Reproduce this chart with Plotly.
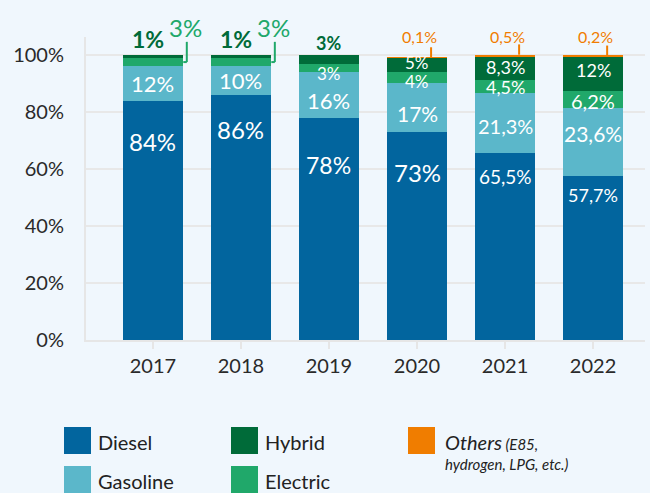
import plotly.graph_objects as go

years = ["2017", "2018", "2019", "2020", "2021", "2022"]
diesel = [84, 86, 78, 73, 65.5, 57.7]
gasoline = [12, 10, 16, 17, 21.3, 23.6]
electric = [3, 3, 3, 4, 4.5, 6.2]
hybrid = [1, 1, 3, 5, 8.3, 12]
others = [0, 0, 0, 0.1, 0.5, 0.2]
y_ticks = [0, 20, 40, 60, 80, 100]

C_DIESEL = "#02659E"
C_GAS = "#5BB7CA"
C_ELEC = "#20A86A"
C_HYB = "#006B39"
C_OTH = "#F07D00"
BG = "#F0F7FD"
FONT = "Lato"

W, H = 650, 493
ML, MR, MT, MB = 86, 5, 37, 153
YMAX = 106.3


def px2x(px):
    return (px - ML) / (W - ML - MR)


def py2y(py):
    return (H - MB - py) / (H - MT - MB)


def v2p(v):
    return v / YMAX


def fmt(v):
    return f"{v:g}".replace(".", ",") + "%"


fig = go.Figure()
for name, vals, col in [("Diesel", diesel, C_DIESEL), ("Gasoline", gasoline, C_GAS),
                        ("Electric", electric, C_ELEC), ("Hybrid", hybrid, C_HYB),
                        ("Others", others, C_OTH)]:
    fig.add_trace(go.Bar(x=years, y=vals, name=name, marker=dict(color=col, line=dict(width=0)),
                         width=0.69, showlegend=False, hoverinfo="x+y+name"))

ann = []
shapes = []


def A(x, y, text, size, color="white", yref="y", weight="normal", yshift=0):
    ann.append(dict(x=x, y=y, xref="x", yref=yref, text=text, showarrow=False, yshift=yshift,
                    xanchor="center", yanchor="middle",
                    font=dict(family=FONT, size=size, color=color, weight=weight)))


diesel_size = [24, 24, 23, 24, 19, 18]
diesel_shift = [-41, -35, -47, -41, -23, -19]
gas_size = [22, 22, 22, 21, 20, 21]
gas_shift = [0, 0, -6, -6, -3, 8]
elec_size = {2: 17, 3: 17, 4: 18, 5: 20}
elec_shift = {2: -6, 3: -4, 4: -1, 5: -2}
hyb_size = {3: 17, 4: 18, 5: 18}
hyb_shift = {3: 2, 4: 1, 5: 3}

for i in range(len(years)):
    A(i, diesel[i], fmt(diesel[i]), diesel_size[i], yshift=diesel_shift[i])
    A(i, diesel[i] + gasoline[i] / 2, fmt(gasoline[i]), gas_size[i], yshift=gas_shift[i])
    base_e = diesel[i] + gasoline[i]
    top_h = base_e + electric[i] + hybrid[i]
    total = top_h + others[i]
    if hybrid[i] < 2:
        A(i - 0.06, v2p(105.6), fmt(hybrid[i]), 23, C_HYB, yref="paper", weight="bold")
        A(i + 0.37, v2p(109.5), fmt(electric[i]), 24, C_ELEC, yref="paper")
        xl = i + 0.385
        ye = base_e + electric[i] * 0.5
        shapes.append(dict(type="line", xref="x", yref="y", x0=i + 0.345, x1=xl, y0=ye, y1=ye,
                           line=dict(color=C_ELEC, width=2)))
        shapes.append(dict(type="line", xref="x", yref="y", x0=xl, x1=xl, y0=ye, y1=104.6,
                           line=dict(color=C_ELEC, width=2)))
    else:
        A(i, base_e + electric[i] / 2, fmt(electric[i]), elec_size[i], yshift=elec_shift[i])
        if others[i] == 0:
            A(i, v2p(104.2), fmt(hybrid[i]), 18, C_HYB, yref="paper", weight="bold")
        else:
            A(i, base_e + electric[i] + hybrid[i] / 2, fmt(hybrid[i]), hyb_size[i],
              yshift=hyb_shift[i])
    if others[i] > 0:
        A(i + 0.03, v2p(106.6), fmt(others[i]), 16, C_OTH, yref="paper")
        shapes.append(dict(type="line", xref="x", yref="y", x0=i + 0.16, x1=i + 0.16,
                           y0=total, y1=total + 3.6, line=dict(color=C_OTH, width=2)))

# legend
leg = [("Diesel", C_DIESEL, 64, 427), ("Gasoline", C_GAS, 64, 466),
       ("Hybrid", C_HYB, 231, 427), ("Electric", C_ELEC, 231, 466)]
for name, col, lx, ly in leg:
    shapes.append(dict(type="rect", xref="paper", yref="paper", x0=px2x(lx), x1=px2x(lx + 27),
                       y0=py2y(ly + 27), y1=py2y(ly), fillcolor=col, line=dict(width=0)))
    ann.append(dict(xref="paper", yref="paper", x=px2x(lx + 32), y=py2y(ly + 15), text=name,
                    showarrow=False, xanchor="left", yanchor="middle",
                    font=dict(family=FONT, size=20, color="#222222")))
shapes.append(dict(type="rect", xref="paper", yref="paper", x0=px2x(408), x1=px2x(435),
                   y0=py2y(454), y1=py2y(427), fillcolor=C_OTH, line=dict(width=0)))
ann.append(dict(xref="paper", yref="paper", x=px2x(443), y=py2y(442),
                text="<i>Others</i><span style='font-size:15px'><i> (E85,</i></span>",
                showarrow=False, xanchor="left", yanchor="middle",
                font=dict(family=FONT, size=20, color="#222222")))
ann.append(dict(xref="paper", yref="paper", x=px2x(443), y=py2y(464),
                text="<i>hydrogen, LPG, etc.)</i>",
                showarrow=False, xanchor="left", yanchor="middle",
                font=dict(family=FONT, size=15, color="#222222")))

fig.update_layout(
    barmode="stack",
    width=W, height=H,
    margin=dict(l=ML, r=MR, t=MT, b=MB),
    paper_bgcolor=BG, plot_bgcolor=BG,
    font=dict(family=FONT, size=20, color="#2a2a2a"),
    annotations=ann,
    shapes=shapes,
    xaxis=dict(type="category", range=[-0.76, 5.59], showgrid=False,
               showline=True, linecolor="#E6E6E6", linewidth=2,
               ticks="outside", ticklen=7, tickwidth=2, tickcolor="#E6E6E6",
               tickfont=dict(size=20, color="#2a2a2a"), fixedrange=True),
    yaxis=dict(range=[0, YMAX], tickvals=y_ticks, ticktext=[f"{v}%" for v in y_ticks],
               showgrid=True, gridcolor="#E8E8E8", gridwidth=2,
               showline=True, linecolor="#E6E6E6", linewidth=2, zeroline=False,
               ticks="", ticklabelstandoff=16,
               tickfont=dict(size=20, color="#2a2a2a"), fixedrange=True),
)

fig.write_html("out.html", config={"displayModeBar": False},
               post_script="document.body.style.margin='0';document.body.style.overflow='hidden';"
                           "document.body.style.background='" + BG + "';")
